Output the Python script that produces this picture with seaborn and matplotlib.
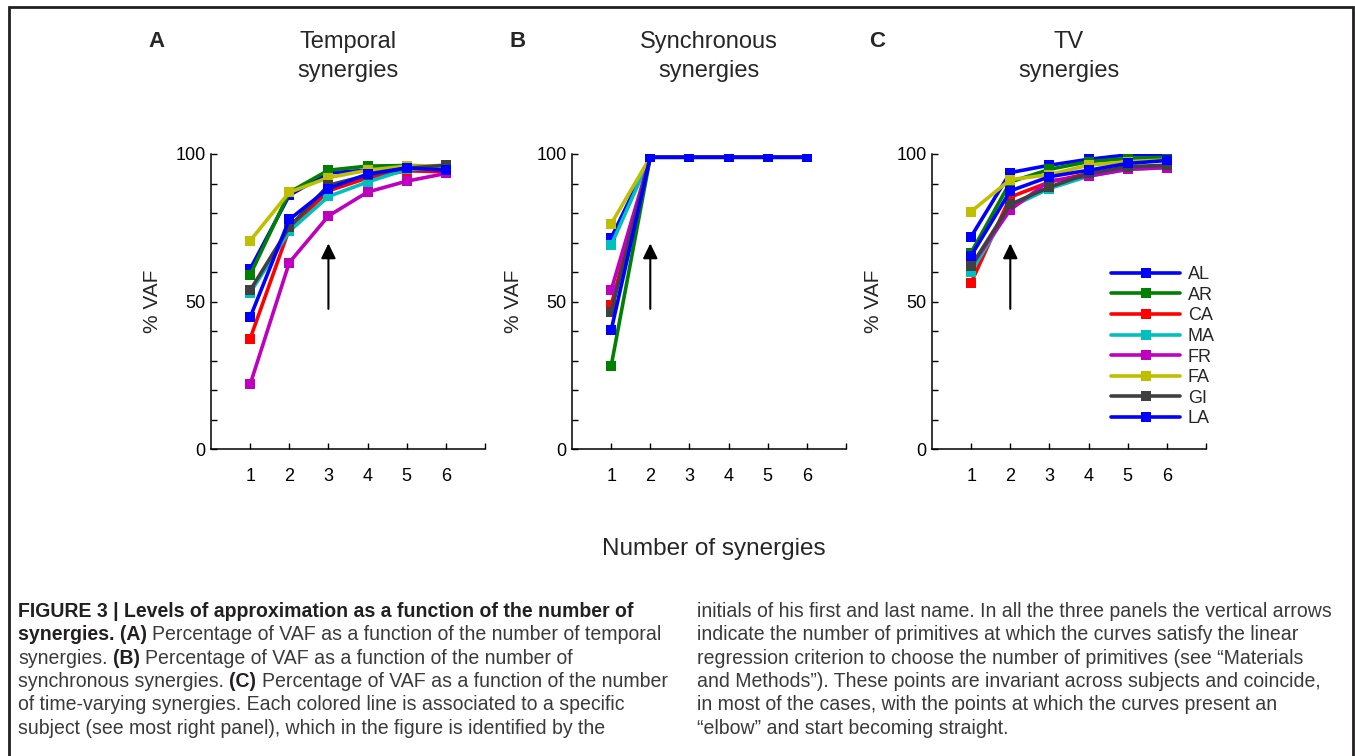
import matplotlib
matplotlib.use("Agg")
import seaborn as sns
import matplotlib.pyplot as plt
import pandas as pd
from matplotlib.patches import Rectangle
from matplotlib import font_manager

# number of synergies on the x axis
n_syn = [1, 2, 3, 4, 5, 6]
subjects = ["AL", "AR", "CA", "MA", "FR", "FA", "GI", "LA"]
colors = ["#0000ff", "#008000", "#ff0000", "#00bfbf", "#bf00bf", "#bfbf00", "#404040", "#0000ff"]

# % VAF, one row per subject (same order as subjects)
vaf_temporal = [
    [61.0, 86.0, 93.6, 94.5, 96.0, 94.2],
    [59.0, 87.0, 94.5, 95.9, 96.1, 95.9],
    [37.4, 74.6, 87.5, 91.9, 94.3, 94.0],
    [53.0, 73.8, 85.6, 90.5, 94.8, 95.0],
    [21.9, 63.2, 79.0, 87.1, 90.8, 93.4],
    [70.6, 87.0, 92.0, 94.5, 95.9, 96.1],
    [53.8, 75.2, 89.4, 92.8, 95.2, 96.2],
    [44.6, 77.8, 88.3, 93.2, 95.3, 94.5],
]
vaf_synchronous = [
    [71.5, 98.9, 98.9, 98.9, 98.9, 98.9],
    [28.1, 98.9, 98.9, 98.9, 98.9, 98.9],
    [48.7, 98.9, 98.9, 98.9, 98.9, 98.9],
    [69.1, 98.9, 98.9, 98.9, 98.9, 98.9],
    [53.8, 98.9, 98.9, 98.9, 98.9, 98.9],
    [76.3, 98.9, 98.9, 98.9, 98.9, 98.9],
    [46.5, 98.9, 98.9, 98.9, 98.9, 98.9],
    [40.2, 98.9, 98.9, 98.9, 98.9, 98.9],
]
vaf_tv = [
    [72.0, 93.7, 96.2, 98.2, 99.7, 99.7],
    [66.6, 90.5, 94.8, 97.4, 98.5, 98.9],
    [56.4, 85.4, 90.5, 93.4, 95.1, 95.9],
    [60.0, 82.0, 88.3, 92.5, 94.8, 95.4],
    [62.0, 81.1, 90.9, 92.5, 94.8, 95.4],
    [80.5, 91.3, 93.0, 96.2, 97.4, 98.0],
    [62.0, 82.9, 88.8, 93.4, 95.7, 96.2],
    [65.5, 87.5, 92.3, 94.5, 96.8, 97.8],
]
panel_letters = ["A", "B", "C"]
panel_titles = ["Temporal\nsynergies", "Synchronous\nsynergies", "TV\nsynergies"]
arrow_at = [3, 2, 2]

caption_left = [
    [("FIGURE 3 | Levels of approximation as a function of the number of", True)],
    [("synergies. (A)", True), ("Percentage of VAF as a function of the number of temporal", False)],
    [("synergies.", False), ("(B)", True), ("Percentage of VAF as a function of the number of", False)],
    [("synchronous synergies.", False), ("(C)", True), ("Percentage of VAF as a function of the number", False)],
    [("of time-varying synergies. Each colored line is associated to a specific", False)],
    [("subject (see most right panel), which in the figure is identified by the", False)],
]
caption_right = [
    [("initials of his first and last name. In all the three panels the vertical arrows", False)],
    [("indicate the number of primitives at which the curves satisfy the linear", False)],
    [("regression criterion to choose the number of primitives (see \u201cMaterials", False)],
    [("and Methods\u201d). These points are invariant across subjects and coincide,", False)],
    [("in most of the cases, with the points at which the curves present an", False)],
    [("\u201celbow\u201d and start becoming straight.", False)],
]


def long_df(rows):
    recs = []
    for subj, vals in zip(subjects, rows):
        for n, v in zip(n_syn, vals):
            recs.append({"n": n, "vaf": v, "subject": subj})
    return pd.DataFrame(recs)


sns.set_style("ticks")
plt.rcParams["font.family"] = ["Liberation Sans", "DejaVu Sans"]
installed = {f.name for f in font_manager.fontManager.ttflist}
if "Liberation Sans Narrow" in installed:
    cap_font = ["Liberation Sans Narrow", "DejaVu Sans"]
else:
    cap_font = ["Liberation Sans", "DejaVu Sans"]

W, H = 1355, 756
fig = plt.figure(figsize=(W / 100, H / 100), dpi=100)

lefts = [211, 572, 932]
axes = []
for i, rows in enumerate([vaf_temporal, vaf_synchronous, vaf_tv]):
    ax = fig.add_axes([lefts[i] / W, 1 - 449 / H, 274 / W, 295 / H])
    sns.lineplot(data=long_df(rows), x="n", y="vaf", hue="subject", hue_order=subjects,
                 palette=colors, marker="s", markersize=7, linewidth=2.6,
                 markeredgewidth=0, estimator=None, legend=False, ax=ax)
    ax.set_xlim(0, 7)
    ax.set_ylim(0, 100)
    ax.set_xticks([1, 2, 3, 4, 5, 6, 7])
    ax.set_xticklabels(["1", "2", "3", "4", "5", "6", ""])
    ax.set_yticks([0, 50, 100])
    ax.set_yticks(range(0, 101, 10), minor=True)
    ax.tick_params(axis="both", which="both", direction="in", length=4, width=1, colors="k",
                   labelsize=13)
    ax.tick_params(axis="x", pad=14)
    ax.tick_params(axis="y", pad=4)
    for side in ["left", "bottom"]:
        ax.spines[side].set_linewidth(1.1)
        ax.spines[side].set_color("k")
    sns.despine(ax=ax)
    ax.set_xlabel("")
    ax.set_ylabel("% VAF", fontsize=15)
    ax.yaxis.set_label_coords(-0.178, 0.5)

    ax.annotate("", xy=(arrow_at[i], 69.7), xytext=(arrow_at[i], 47.5),
                arrowprops=dict(arrowstyle="-|>,head_length=0.45,head_width=0.22",
                                color="k", lw=1.5, mutation_scale=20, shrinkA=0, shrinkB=0))
    ax.text(0.5, 1.33, panel_titles[i], transform=ax.transAxes, ha="center", va="center",
            fontsize=17, linespacing=1.4)
    ax.text(-0.2, 1.38, panel_letters[i], transform=ax.transAxes, ha="center", va="center",
            fontsize=16, fontweight="bold")
    axes.append(ax)

axC = axes[2]
axC.legend(handles=axC.lines[:8], labels=subjects, loc="upper left",
           bbox_to_anchor=(0.653, 0.62), frameon=False, handlelength=3.85,
           handletextpad=0.4, labelspacing=0.2, borderpad=0, borderaxespad=0,
           numpoints=1, fontsize=13)

fig.text(714 / W, 1 - 549 / H, "Number of synergies", ha="center", va="center", fontsize=17.5)

# outer frame
fig.add_artist(Rectangle((9 / W, -0.05), (1353 - 9) / W, 0.05 + 1 - 7 / H,
                         transform=fig.transFigure, fill=False, lw=2, ec="#231f20"))

# caption, drawn piece by piece so bold runs sit inline
renderer = fig.canvas.get_renderer()


def text_width(s, weight, size):
    t = fig.text(0, 0, s, fontsize=size, family=cap_font, fontweight=weight)
    w = t.get_window_extent(renderer=renderer).width
    t.remove()
    return w


# pick the caption size so the first (bold) line spans the column like the original
cap_size = 14 * 619 / text_width(caption_left[0][0][0], "bold", 14)
space_w = text_width("a a", "normal", cap_size) - text_width("aa", "normal", cap_size)


def draw_column(lines, x0):
    for k, segs in enumerate(lines):
        x = x0
        y = 617 + k * 23.3
        for s, bold in segs:
            weight = "bold" if bold else "normal"
            t = fig.text(x / W, 1 - y / H, s, fontsize=cap_size, family=cap_font,
                         fontweight=weight, color="#231f20" if bold else "#3a3a3a",
                         va="baseline", ha="left")
            x += t.get_window_extent(renderer=renderer).width + space_w


draw_column(caption_left, 18)
draw_column(caption_right, 697)

fig.savefig("out.png", dpi=100)
